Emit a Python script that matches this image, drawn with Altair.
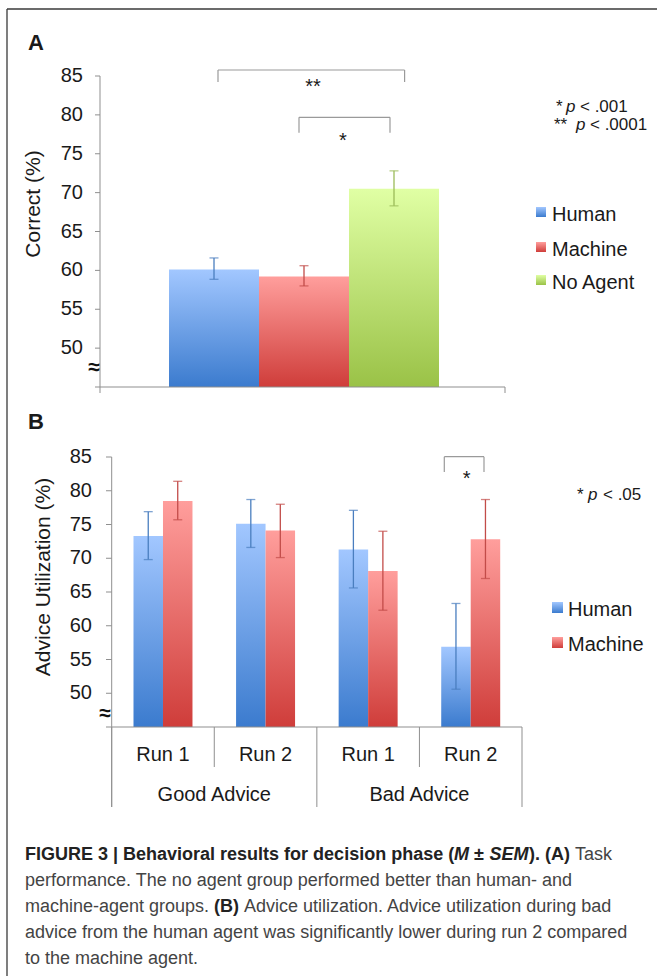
import altair as alt
import pandas as pd

# ---------------- data ----------------
# Panel A: task performance
agents_a = ["Human", "Machine", "No Agent"]
correct_mean = [60.1, 59.2, 70.5]
correct_low = [58.85, 58.0, 68.3]
correct_high = [61.6, 60.6, 72.8]

# Panel B: advice utilization
advice_type = ["Good Advice", "Good Advice", "Bad Advice", "Bad Advice"]
run_label = ["Run 1", "Run 2", "Run 1", "Run 2"]
agents_b = ["Human", "Machine"]
human_util = [73.3, 75.1, 71.3, 56.9]
human_low = [69.8, 71.6, 65.6, 50.6]
human_high = [76.9, 78.7, 77.1, 63.3]
machine_util = [78.5, 74.1, 68.1, 72.8]
machine_low = [75.7, 70.1, 62.3, 67.0]
machine_high = [81.4, 78.0, 74.0, 78.7]

y_ticks = [45, 50, 55, 60, 65, 70, 75, 80, 85]
y_tick_labels = [50, 55, 60, 65, 70, 75, 80, 85]

# ---------------- styles ----------------
FONT = "Liberation Sans"
CAP_FONT = "Liberation Sans"
AXIS_C = "#8f8f8f"
TXT_C = "#1a1a1a"
BRACKET_C = "#9a9a9a"

grad_colors = {
    "Human": ("#A2C7FF", "#3B7BCE"),
    "Machine": ("#FF9E9C", "#CF3D3A"),
    "No Agent": ("#E0FFA4", "#9AC247"),
}
err_colors = {"Human": "#4A7EBF", "Machine": "#C24C49", "No Agent": "#9BBB59"}


def grad(agent):
    top, bottom = grad_colors[agent]
    return alt.LinearGradient(
        gradient="linear",
        stops=[alt.GradientStop(color=top, offset=0), alt.GradientStop(color=bottom, offset=1)],
        x1=0, x2=0, y1=0, y2=1,
    )


dfA = pd.DataFrame({"agent": agents_a, "mean": correct_mean, "low": correct_low, "high": correct_high})
slots = [f"{a} | {r}" for a, r in zip(advice_type, run_label)]
dfB = pd.DataFrame({
    "slot": slots * 2,
    "run": run_label * 2,
    "advice": advice_type * 2,
    "agent": ["Human"] * 4 + ["Machine"] * 4,
    "mean": human_util + machine_util,
    "low": human_low + machine_low,
    "high": human_high + machine_high,
})
dfSlots = pd.DataFrame({"slot": slots, "run": run_label, "advice": advice_type})
dfTicks = pd.DataFrame({"t": y_ticks})
dfTickLabels = pd.DataFrame({"t": y_tick_labels})

base = alt.Chart(pd.DataFrame({"d": [0]}))


def text(s, x, y, size=20, weight="normal", style="normal", align="left",
         baseline="alphabetic", color=TXT_C, font=FONT, angle=0):
    kw = dict(text=s, fontSize=size, fontWeight=weight, fontStyle=style, align=align,
              baseline=baseline, color=color, font=font)
    if angle:
        kw["angle"] = angle
    return base.mark_text(**kw).encode(x=alt.value(x), y=alt.value(y))


def hline(x1, x2, y, color=AXIS_C, w=1.0):
    return base.mark_rule(color=color, strokeWidth=w).encode(
        x=alt.value(x1), x2=alt.value(x2), y=alt.value(y))


def vline(x, y1, y2, color=AXIS_C, w=1.0):
    return base.mark_rule(color=color, strokeWidth=w).encode(
        x=alt.value(x), y=alt.value(y1), y2=alt.value(y2))


def bracket(x1, x2, ytop, ybot):
    return [hline(x1, x2, ytop, BRACKET_C, 1.2), vline(x1, ytop, ybot, BRACKET_C, 1.2),
            vline(x2, ytop, ybot, BRACKET_C, 1.2)]


def square(x1, x2, y1, y2, agent):
    return base.mark_rect(color=grad(agent)).encode(
        x=alt.value(x1), x2=alt.value(x2), y=alt.value(y1), y2=alt.value(y2))


# ---------------- panel A ----------------
yA = alt.Scale(domain=[45, 85], range=[387, 76], nice=False, zero=False)
xA = alt.Scale(domain=agents_a, range=[169, 439], paddingInner=0, paddingOuter=0)
XA = alt.X("agent:N", scale=xA, axis=None)

layersA = []
for ag in agents_a:
    b = alt.Chart(dfA).transform_filter(alt.datum.agent == ag)
    layersA.append(b.mark_bar(color=grad(ag)).encode(
        x=XA, y=alt.Y("mean:Q", scale=yA, axis=None), y2=alt.datum(45)))
for ag in agents_a:
    b = alt.Chart(dfA).transform_filter(alt.datum.agent == ag)
    c = err_colors[ag]
    layersA.append(b.mark_rule(color=c, strokeWidth=1.3).encode(
        x=XA, y=alt.Y("low:Q", scale=yA, axis=None), y2="high:Q"))
    layersA.append(b.mark_tick(color=c, size=9, thickness=1.3).encode(
        x=XA, y=alt.Y("low:Q", scale=yA, axis=None)))
    layersA.append(b.mark_tick(color=c, size=9, thickness=1.3).encode(
        x=XA, y=alt.Y("high:Q", scale=yA, axis=None)))

layersA.append(alt.Chart(dfTicks).mark_rule(color=AXIS_C).encode(
    y=alt.Y("t:Q", scale=yA, axis=None), x=alt.value(95), x2=alt.value(100)))
layersA.append(alt.Chart(dfTickLabels).mark_text(
    align="right", baseline="middle", fontSize=20, font=FONT, color=TXT_C).encode(
    y=alt.Y("t:Q", scale=yA, axis=None), x=alt.value(83), text=alt.Text("t:Q")))
panelA = alt.layer(*layersA)

# ---------------- panel B ----------------
yB = alt.Scale(domain=[45, 85], range=[727, 457], nice=False, zero=False)
xB = alt.Scale(domain=slots, range=[111.7, 522], paddingInner=0, paddingOuter=0)
offB = alt.Scale(domain=agents_b, paddingInner=0, paddingOuter=0.739)
XB = alt.X("slot:N", scale=xB, axis=None)
XO = alt.XOffset("agent:N", scale=offB)

layersB = []
for ag in agents_b:
    b = alt.Chart(dfB).transform_filter(alt.datum.agent == ag)
    layersB.append(b.mark_bar(color=grad(ag)).encode(
        x=XB, xOffset=XO, y=alt.Y("mean:Q", scale=yB, axis=None), y2=alt.datum(45)))
for ag in agents_b:
    b = alt.Chart(dfB).transform_filter(alt.datum.agent == ag)
    c = err_colors[ag]
    layersB.append(b.mark_rule(color=c, strokeWidth=1.3).encode(
        x=XB, xOffset=XO, y=alt.Y("low:Q", scale=yB, axis=None), y2="high:Q"))
    layersB.append(b.mark_tick(color=c, size=9, thickness=1.3).encode(
        x=XB, xOffset=XO, y=alt.Y("low:Q", scale=yB, axis=None)))
    layersB.append(b.mark_tick(color=c, size=9, thickness=1.3).encode(
        x=XB, xOffset=XO, y=alt.Y("high:Q", scale=yB, axis=None)))

layersB.append(alt.Chart(dfTicks).mark_rule(color=AXIS_C).encode(
    y=alt.Y("t:Q", scale=yB, axis=None), x=alt.value(106), x2=alt.value(111.7)))
layersB.append(alt.Chart(dfTickLabels).mark_text(
    align="right", baseline="middle", fontSize=20, font=FONT, color=TXT_C).encode(
    y=alt.Y("t:Q", scale=yB, axis=None), x=alt.value(92), text=alt.Text("t:Q")))
# category axis (runs and advice groups)
layersB.append(alt.Chart(dfSlots).mark_text(
    fontSize=20, font=FONT, color=TXT_C, baseline="middle").encode(
    x=XB, y=alt.value(755), text="run:N"))
layersB.append(alt.Chart(dfSlots).transform_filter(alt.datum.run == "Run 1").mark_text(
    fontSize=20, font=FONT, color=TXT_C, baseline="middle").encode(
    x=alt.X("slot:N", scale=xB, axis=None, bandPosition=1), y=alt.value(795), text="advice:N"))
layersB.append(alt.Chart(dfSlots).transform_filter(alt.datum.run == "Run 1").mark_rule(color=AXIS_C).encode(
    x=alt.X("slot:N", scale=xB, axis=None, bandPosition=0), y=alt.value(727), y2=alt.value(807)))
layersB.append(alt.Chart(dfSlots).transform_filter(alt.datum.slot == slots[-1]).mark_rule(color=AXIS_C).encode(
    x=alt.X("slot:N", scale=xB, axis=None, bandPosition=1), y=alt.value(727), y2=alt.value(807)))
layersB.append(alt.Chart(dfSlots).transform_filter(alt.datum.run == "Run 2").mark_rule(color=AXIS_C).encode(
    x=alt.X("slot:N", scale=xB, axis=None, bandPosition=0), y=alt.value(727), y2=alt.value(767)))
panelB = alt.layer(*layersB)

# ---------------- annotations ----------------
annos = []
# frame
annos.append(hline(7, 657, 9, "#3a3a3a", 1.3))
annos.append(vline(7, 9, 976, "#3a3a3a", 1.3))

# panel A axes
annos.append(vline(100, 76, 393))
annos.append(hline(100, 505, 387))
annos.append(vline(505, 387, 393))
annos.append(text("≈", 94, 368, size=21, weight="bold", align="center", baseline="middle", color="#111"))
annos.append(text("A", 28, 50, size=22, weight="bold"))
annos.append(text("Correct (%)", 33.5, 204, size=21, align="center", baseline="middle", angle=270))
annos += bracket(218, 404.6, 70, 82)
annos.append(text("**", 313, 92.5, size=20, align="center"))
annos += bracket(299, 390, 117.3, 132.7)
annos.append(text("*", 343, 146.5, size=20, align="center"))
# p-value notes A
annos.append(text("*", 556, 112, size=17))
annos.append(text("p", 566, 112, size=17, style="italic"))
annos.append(text("< .001", 580, 112, size=17))
annos.append(text("**", 554, 130, size=17))
annos.append(text("p", 576, 130, size=17, style="italic"))
annos.append(text("< .0001", 590, 130, size=17))
# legend A
for ag, yc in zip(agents_a, [215, 250, 283]):
    annos.append(square(536, 546, yc - 8, yc + 2, ag))
    annos.append(text(ag, 552, yc, size=20, baseline="middle"))

# panel B axes
annos.append(vline(111.7, 457, 807))
annos.append(hline(111.7, 522, 727))
annos.append(text("≈", 105, 714, size=21, weight="bold", align="center", baseline="middle", color="#111"))
annos.append(text("B", 28, 429, size=22, weight="bold"))
annos.append(text("Advice Utilization (%)", 44, 577, size=21, align="center", baseline="middle", angle=270))
annos += bracket(444.3, 484, 456.7, 472)
annos.append(text("*", 466.7, 484.5, size=20, align="center"))
annos.append(text("*", 577, 500, size=17))
annos.append(text("p", 588, 500, size=17, style="italic"))
annos.append(text("< .05", 603, 500, size=17))
for ag, yc in zip(agents_b, [610, 645]):
    annos.append(square(552, 563, yc - 8, yc + 3, ag))
    annos.append(text(ag, 568, yc, size=20, baseline="middle"))

# caption
CB = "#222222"
CR = "#444444"
CS = 18
annos.append(text("FIGURE 3 | Behavioral results for decision phase (", 25, 860, CS, "bold", color=CB, font=CAP_FONT))
annos.append(text("M", 454, 860, CS, "bold", "italic", color=CB, font=CAP_FONT))
annos.append(text("±", 474, 860, CS, "bold", color=CB, font=CAP_FONT))
annos.append(text("SEM", 489.5, 860, CS, "bold", "italic", color=CB, font=CAP_FONT))
annos.append(text("). (A)", 529, 860, CS, "bold", color=CB, font=CAP_FONT))
annos.append(text("Task", 575, 860, CS, color=CR, font=CAP_FONT))
annos.append(text("performance. The no agent group performed better than human- and", 25, 886, CS, color=CR, font=CAP_FONT))
annos.append(text("machine-agent groups.", 25, 912, CS, color=CR, font=CAP_FONT))
annos.append(text("(B)", 214, 912, CS, "bold", color=CB, font=CAP_FONT))
annos.append(text("Advice utilization. Advice utilization during bad", 244, 912, CS, color=CR, font=CAP_FONT))
annos.append(text("advice from the human agent was significantly lower during run 2 compared", 25, 938, CS, color=CR, font=CAP_FONT))
annos.append(text("to the machine agent.", 25, 964, CS, color=CR, font=CAP_FONT))

chart = alt.layer(panelA, panelB, *annos).resolve_scale(
    x="independent", y="independent"
).properties(
    width=657, height=976, padding=0,
    autosize=alt.AutoSizeParams(type="none"),
    background="white",
).configure_view(strokeWidth=0)

chart.save("out.html", embed_options={"renderer": "svg", "actions": False})
